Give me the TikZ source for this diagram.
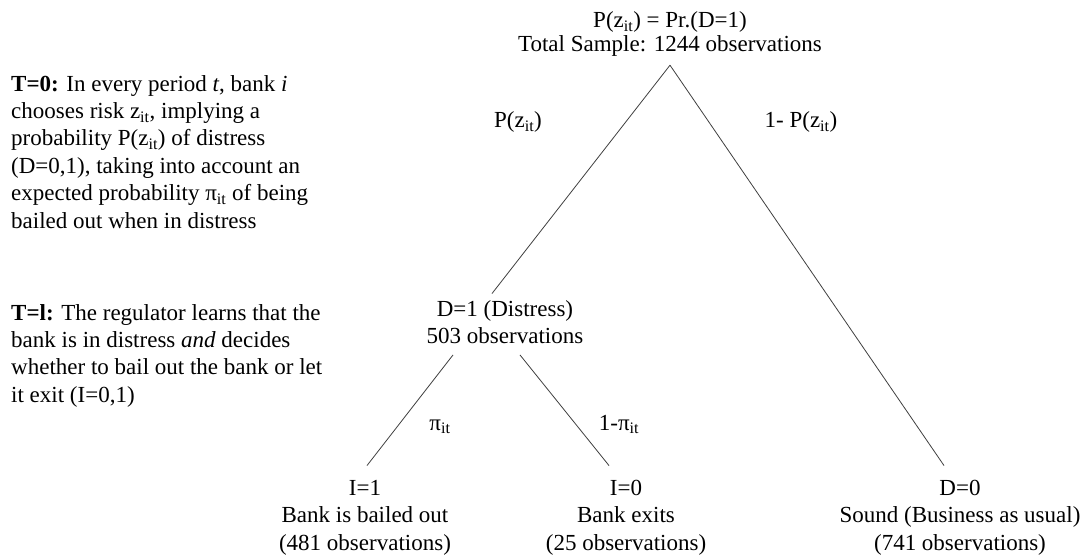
\documentclass[tikz,border=0pt]{standalone}
\usepackage{fontspec}
\setmainfont{Liberation Serif}
\newcommand\Lbrk{\strut\\}
\tikzset{
  txt/.style={font=\fontsize{23}{27.5}\selectfont, inner xsep=0pt, inner ysep=3pt, align=center},
  leaf/.style={txt, inner ysep=10pt},
  side/.style={font=\fontsize{23}{27.4}\selectfont, inner sep=0pt, align=left, anchor=north west},
  lab/.style={font=\fontsize{23}{27.5}\selectfont, inner sep=0pt, anchor=base},
  branch/.style={draw=black!75, line width=0.8pt}
}
\begin{document}
\begin{tikzpicture}[x=1pt,y=-1pt]
\useasboundingbox[fill=white] (0,0) rectangle (1085,556);
% left texts
\node[side] (t0) at (11,71.8) {\textbf{T=0:} In every period \textit{t}, bank \textit{i}\Lbrk
chooses risk z\textsubscript{it}, implying a\Lbrk
probability P(z\textsubscript{it}) of distress\Lbrk
(D=0,1), taking into account an\Lbrk
expected probability π\textsubscript{it} of being\Lbrk
bailed out when in distress\strut};
\node[side] (t1) at (11,300.8) {\textbf{T=l:} The regulator learns that the\Lbrk
bank is in distress \textit{and} decides\Lbrk
whether to bail out the bank or let\Lbrk
it exit (I=0,1)\strut};
% tree nodes
\node[txt, inner ysep=4.75pt] (top) at (670,34.5) {P(z\textsubscript{it}) = Pr.(D=1)\strut\\[-3.5pt]
Total Sample: 1244 observations\strut};
\node[txt] (d1) at (505,324.25) {D=1 (Distress)\Lbrk 503 observations\strut};
\node[leaf] (i1) at (365,517) {I=1\Lbrk Bank is bailed out\Lbrk (481 observations)\strut};
\node[leaf] (i0) at (626,517) {I=0\Lbrk Bank exits\Lbrk (25 observations)\strut};
\node[leaf] (d0) at (960,517) {D=0\Lbrk Sound (Business as usual)\Lbrk (741 observations)\strut};
% branches
\draw[branch] (top.south) -- ([xshift=-13pt]d1.north);
\draw[branch] (top.south) -- ([xshift=-16pt]d0.north);
\draw[branch] ([xshift=-52pt]d1.south) -- ([xshift=2pt]i1.north);
\draw[branch] ([xshift=15pt]d1.south) -- ([xshift=-17pt]i0.north);
% branch labels
\node[lab] (pz) at (518,128) {P(z\textsubscript{it})};
\node[lab] (qz) at (801,128) {1- P(z\textsubscript{it})};
\node[lab] (pi) at (440,430) {π\textsubscript{it}};
\node[lab] (qi) at (619,430) {1-π\textsubscript{it}};
\end{tikzpicture}
\end{document}
